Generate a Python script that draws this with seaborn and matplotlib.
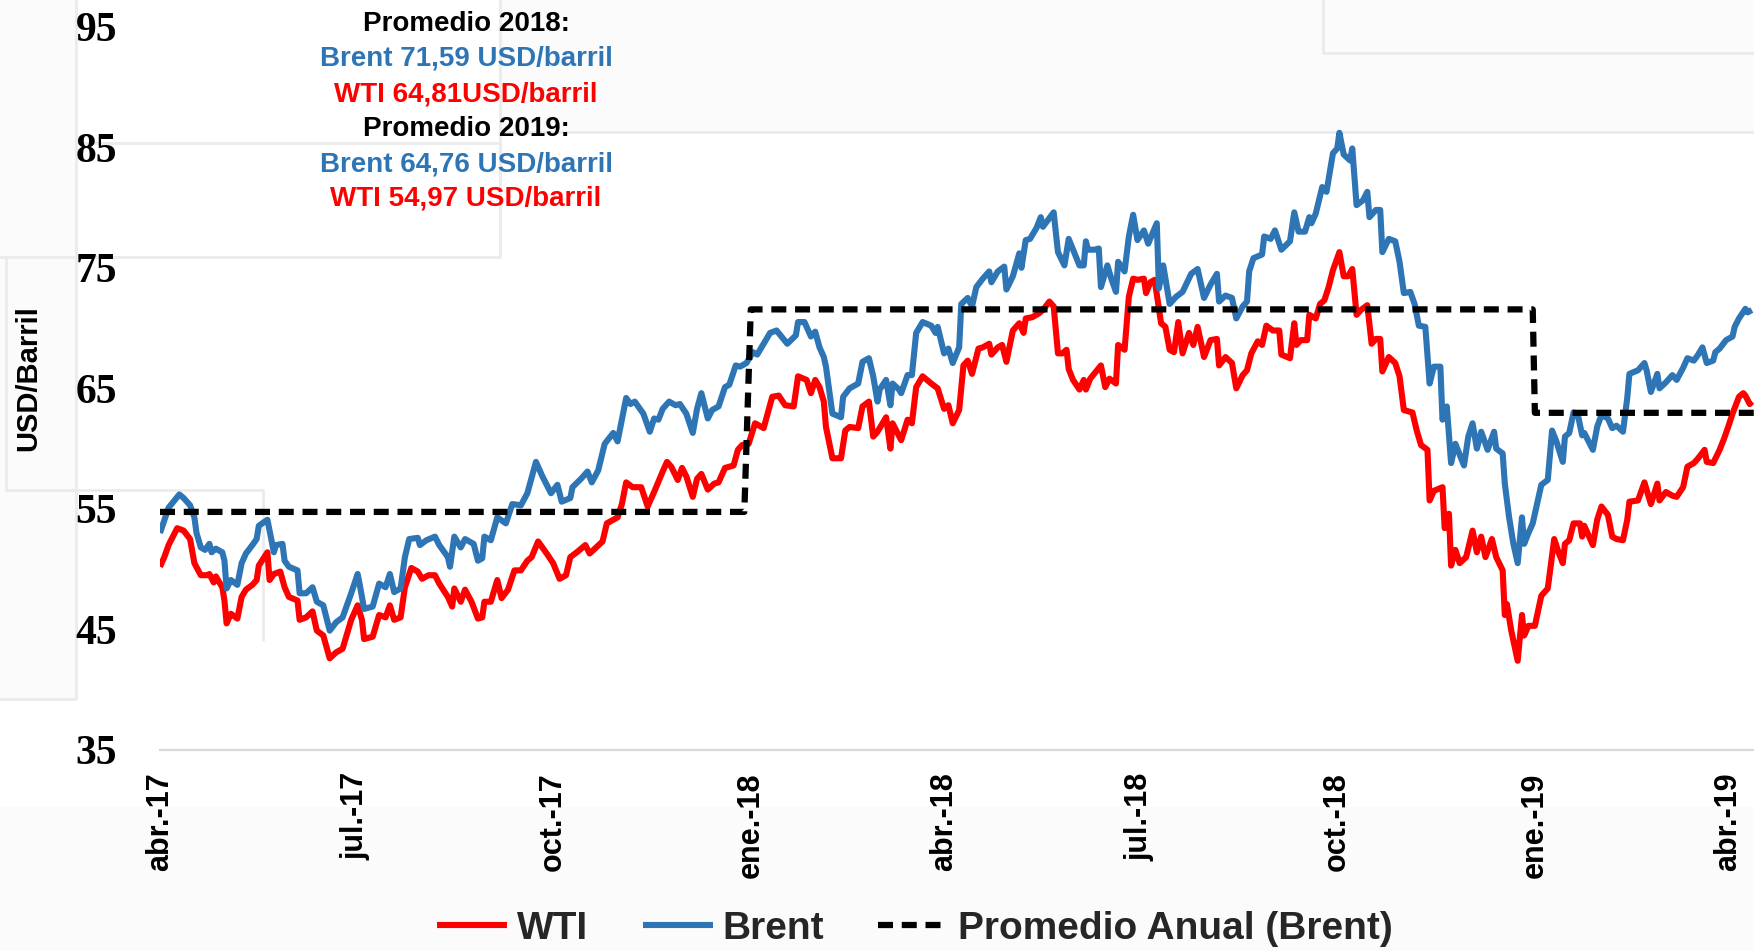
import matplotlib
matplotlib.use("Agg")
import matplotlib.pyplot as plt
from matplotlib.lines import Line2D
from matplotlib.patches import Rectangle
import pandas as pd
import seaborn as sns

# ── datos (USD/barril) ────────────────────────────────────────────────────────
wti_fechas = [
    "2017-04-01", "2017-04-03", "2017-04-05", "2017-04-09", "2017-04-12", "2017-04-15", "2017-04-17", "2017-04-20", "2017-04-23", "2017-04-24", "2017-04-26", "2017-04-27", "2017-04-30",
    "2017-05-01", "2017-05-02", "2017-05-04", "2017-05-07", "2017-05-09", "2017-05-11", "2017-05-14", "2017-05-16", "2017-05-17", "2017-05-21", "2017-05-22", "2017-05-24", "2017-05-27", "2017-05-29", "2017-05-31",
    "2017-06-04", "2017-06-05", "2017-06-08", "2017-06-11", "2017-06-13", "2017-06-16", "2017-06-19", "2017-06-22", "2017-06-25", "2017-06-29",
    "2017-07-02", "2017-07-04", "2017-07-05", "2017-07-09", "2017-07-12", "2017-07-15", "2017-07-17", "2017-07-19", "2017-07-22", "2017-07-24", "2017-07-27", "2017-07-30",
    "2017-08-01", "2017-08-04", "2017-08-07", "2017-08-09", "2017-08-13", "2017-08-15", "2017-08-16", "2017-08-19", "2017-08-21", "2017-08-24", "2017-08-27", "2017-08-29", "2017-08-30",
    "2017-09-02", "2017-09-05", "2017-09-07", "2017-09-10", "2017-09-13", "2017-09-16", "2017-09-19", "2017-09-21", "2017-09-24", "2017-09-28",
    "2017-10-01", "2017-10-04", "2017-10-07", "2017-10-09", "2017-10-12", "2017-10-16", "2017-10-18", "2017-10-21", "2017-10-24", "2017-10-26", "2017-10-31",
    "2017-11-02", "2017-11-04", "2017-11-07", "2017-11-11", "2017-11-14", "2017-11-17", "2017-11-21", "2017-11-23", "2017-11-25", "2017-11-28", "2017-11-30",
    "2017-12-02", "2017-12-05", "2017-12-07", "2017-12-09", "2017-12-12", "2017-12-15", "2017-12-17", "2017-12-20", "2017-12-24", "2017-12-26", "2017-12-28", "2017-12-31",
    "2018-01-03", "2018-01-07", "2018-01-11", "2018-01-14", "2018-01-17", "2018-01-21", "2018-01-23", "2018-01-27", "2018-01-29", "2018-01-31",
    "2018-02-02", "2018-02-04", "2018-02-05", "2018-02-08", "2018-02-12", "2018-02-14", "2018-02-16", "2018-02-20", "2018-02-22", "2018-02-25", "2018-02-27",
    "2018-03-01", "2018-03-05", "2018-03-07", "2018-03-08", "2018-03-12", "2018-03-15", "2018-03-17", "2018-03-19", "2018-03-22", "2018-03-26", "2018-03-29",
    "2018-04-01", "2018-04-03", "2018-04-05", "2018-04-08", "2018-04-10", "2018-04-12", "2018-04-14", "2018-04-17", "2018-04-19", "2018-04-22", "2018-04-23", "2018-04-26", "2018-04-28", "2018-04-30",
    "2018-05-03", "2018-05-06", "2018-05-08", "2018-05-09", "2018-05-12", "2018-05-15", "2018-05-17", "2018-05-20", "2018-05-22", "2018-05-24", "2018-05-26", "2018-05-28", "2018-05-29", "2018-05-31",
    "2018-06-03", "2018-06-05", "2018-06-06", "2018-06-08", "2018-06-13", "2018-06-15", "2018-06-17", "2018-06-20", "2018-06-21", "2018-06-24", "2018-06-26", "2018-06-28", "2018-06-30",
    "2018-07-03", "2018-07-04", "2018-07-06", "2018-07-08", "2018-07-11", "2018-07-13", "2018-07-15", "2018-07-17", "2018-07-19", "2018-07-21", "2018-07-24", "2018-07-26", "2018-07-28", "2018-07-31",
    "2018-08-03", "2018-08-06", "2018-08-07", "2018-08-10", "2018-08-13", "2018-08-15", "2018-08-18", "2018-08-20", "2018-08-22", "2018-08-25", "2018-08-27", "2018-08-29",
    "2018-09-01", "2018-09-04", "2018-09-05", "2018-09-09", "2018-09-11", "2018-09-12", "2018-09-14", "2018-09-17", "2018-09-18", "2018-09-21", "2018-09-23", "2018-09-25", "2018-09-27", "2018-09-29",
    "2018-10-02", "2018-10-04", "2018-10-06", "2018-10-08", "2018-10-10", "2018-10-12", "2018-10-15", "2018-10-17", "2018-10-19", "2018-10-21", "2018-10-22", "2018-10-25", "2018-10-28", "2018-10-30",
    "2018-11-01", "2018-11-05", "2018-11-07", "2018-11-09", "2018-11-12", "2018-11-13", "2018-11-15", "2018-11-19", "2018-11-20", "2018-11-22", "2018-11-23", "2018-11-25", "2018-11-27", "2018-11-30",
    "2018-12-03", "2018-12-05", "2018-12-07", "2018-12-09", "2018-12-12", "2018-12-14", "2018-12-17", "2018-12-18", "2018-12-19", "2018-12-21", "2018-12-24", "2018-12-26", "2018-12-27", "2018-12-29",
    "2019-01-01", "2019-01-04", "2019-01-07", "2019-01-10", "2019-01-12", "2019-01-14", "2019-01-15", "2019-01-17", "2019-01-19", "2019-01-22", "2019-01-23", "2019-01-24", "2019-01-28", "2019-01-30",
    "2019-02-01", "2019-02-04", "2019-02-06", "2019-02-08", "2019-02-11", "2019-02-13", "2019-02-14", "2019-02-18", "2019-02-21", "2019-02-24", "2019-02-27", "2019-02-28",
    "2019-03-03", "2019-03-06", "2019-03-08", "2019-03-11", "2019-03-13", "2019-03-16", "2019-03-18", "2019-03-21", "2019-03-22", "2019-03-25", "2019-03-28", "2019-03-30",
    "2019-04-01", "2019-04-03", "2019-04-06", "2019-04-08", "2019-04-09", "2019-04-11", "2019-04-12",
]
wti_usd = [
    50.2, 51.0, 52.0, 53.4, 53.2, 52.5, 50.5, 49.5, 49.5, 49.6, 48.9, 49.4, 48.5,
    47.4, 45.5, 46.3, 45.9, 47.7, 48.3, 48.7, 49.1, 50.3, 51.4, 49.1, 49.6, 49.8, 48.5, 47.7,
    47.4, 45.8, 46.0, 46.5, 44.9, 44.5, 42.6, 43.1, 43.4, 45.8,
    47.0, 45.8, 44.2, 44.4, 46.2, 46.0, 47.0, 45.8, 46.0, 48.5, 50.1, 49.8,
    49.2, 49.5, 49.5, 48.8, 47.7, 46.9, 48.4, 47.3, 48.3, 47.3, 45.9, 46.0, 47.3,
    47.3, 49.1, 47.6, 48.3, 49.9, 49.9, 50.7, 51.0, 52.3, 51.3,
    50.5, 49.2, 49.5, 51.0, 51.4, 52.0, 51.3, 51.8, 52.3, 53.8, 54.3,
    55.4, 57.2, 56.8, 56.8, 55.2, 56.4, 58.1, 58.9, 58.5, 57.4, 58.4,
    57.7, 56.0, 57.5, 57.9, 56.6, 57.1, 57.2, 58.4, 58.6, 59.9, 60.3, 60.4,
    62.1, 61.7, 64.3, 64.4, 63.6, 63.5, 66.0, 65.7, 64.6, 65.7,
    65.1, 63.9, 61.8, 59.2, 59.2, 61.5, 61.8, 61.7, 63.5, 63.9, 61.0,
    61.4, 62.6, 60.0, 62.1, 60.7, 62.4, 62.1, 65.1, 66.0, 65.4, 65.0,
    63.3, 63.6, 62.1, 63.2, 66.9, 67.3, 66.2, 68.3, 68.4, 68.7, 67.8, 68.4, 68.6, 67.2,
    69.8, 70.4, 69.6, 70.8, 70.9, 71.2, 71.5, 72.2, 71.8, 67.9, 67.9, 68.2, 66.6, 65.7,
    64.9, 65.7, 64.9, 65.8, 66.9, 65.1, 65.8, 65.4, 68.6, 68.2, 72.6, 74.1, 74.0,
    74.1, 72.9, 73.8, 74.0, 70.4, 70.1, 68.2, 68.0, 70.5, 67.9, 69.6, 68.6, 70.1, 67.6,
    69.0, 69.1, 66.9, 67.6, 67.1, 65.0, 66.1, 66.5, 67.9, 68.9, 68.6, 70.2,
    69.8, 69.8, 67.8, 67.5, 70.4, 68.6, 69.0, 69.0, 71.1, 70.8, 72.0, 72.3, 73.4, 74.8,
    76.3, 74.3, 74.3, 74.9, 71.1, 71.5, 71.9, 68.7, 69.1, 69.1, 66.4, 67.6, 67.1, 66.0,
    63.2, 63.0, 61.5, 60.3, 59.9, 55.7, 56.5, 56.8, 53.4, 54.6, 50.3, 51.6, 50.5, 51.0,
    53.2, 51.4, 52.7, 51.0, 52.5, 51.0, 49.9, 46.2, 47.1, 44.9, 42.4, 46.2, 44.5, 45.3,
    45.3, 47.8, 48.4, 52.5, 51.4, 50.5, 52.1, 52.4, 53.8, 53.8, 52.7, 53.6, 52.0, 54.1,
    55.2, 54.5, 52.7, 52.5, 52.4, 54.1, 55.6, 55.7, 57.2, 55.4, 57.1, 55.7,
    56.4, 56.1, 56.0, 56.8, 58.5, 58.8, 59.2, 59.9, 58.9, 58.8, 59.9, 60.8,
    61.8, 62.9, 64.3, 64.6, 64.4, 63.7, 63.9,
]

brent_fechas = [
    "2017-04-01", "2017-04-05", "2017-04-10", "2017-04-12", "2017-04-15", "2017-04-17", "2017-04-18", "2017-04-20", "2017-04-22", "2017-04-24", "2017-04-25", "2017-04-27", "2017-04-30",
    "2017-05-01", "2017-05-02", "2017-05-04", "2017-05-07", "2017-05-09", "2017-05-11", "2017-05-14", "2017-05-16", "2017-05-17", "2017-05-21", "2017-05-22", "2017-05-24", "2017-05-25", "2017-05-28", "2017-05-29", "2017-05-31",
    "2017-06-04", "2017-06-05", "2017-06-08", "2017-06-11", "2017-06-13", "2017-06-16", "2017-06-19", "2017-06-22", "2017-06-25", "2017-06-29",
    "2017-07-02", "2017-07-03", "2017-07-05", "2017-07-09", "2017-07-12", "2017-07-15", "2017-07-17", "2017-07-19", "2017-07-22", "2017-07-24", "2017-07-26", "2017-07-30", "2017-07-31",
    "2017-08-03", "2017-08-07", "2017-08-09", "2017-08-13", "2017-08-14", "2017-08-16", "2017-08-19", "2017-08-21", "2017-08-25", "2017-08-27", "2017-08-29", "2017-08-30",
    "2017-09-02", "2017-09-05", "2017-09-09", "2017-09-12", "2017-09-16", "2017-09-19", "2017-09-23", "2017-09-26", "2017-09-30",
    "2017-10-03", "2017-10-05", "2017-10-09", "2017-10-10", "2017-10-14", "2017-10-17", "2017-10-19", "2017-10-22", "2017-10-25", "2017-10-29", "2017-10-31",
    "2017-11-04", "2017-11-06", "2017-11-08", "2017-11-12", "2017-11-15", "2017-11-17", "2017-11-19", "2017-11-21", "2017-11-24", "2017-11-27", "2017-11-29",
    "2017-12-02", "2017-12-05", "2017-12-07", "2017-12-09", "2017-12-12", "2017-12-14", "2017-12-17", "2017-12-20", "2017-12-22", "2017-12-25", "2017-12-27", "2017-12-30",
    "2018-01-02", "2018-01-04", "2018-01-07", "2018-01-10", "2018-01-13", "2018-01-18", "2018-01-22", "2018-01-23", "2018-01-26", "2018-01-29", "2018-01-31",
    "2018-02-02", "2018-02-04", "2018-02-05", "2018-02-08", "2018-02-12", "2018-02-13", "2018-02-16", "2018-02-20", "2018-02-22", "2018-02-25", "2018-02-27",
    "2018-03-01", "2018-03-02", "2018-03-05", "2018-03-07", "2018-03-08", "2018-03-11", "2018-03-12", "2018-03-15", "2018-03-17", "2018-03-19", "2018-03-22", "2018-03-26", "2018-03-28", "2018-03-29",
    "2018-04-01", "2018-04-03", "2018-04-05", "2018-04-08", "2018-04-09", "2018-04-12", "2018-04-14", "2018-04-16", "2018-04-19", "2018-04-22", "2018-04-23", "2018-04-26", "2018-04-29", "2018-04-30",
    "2018-05-03", "2018-05-06", "2018-05-07", "2018-05-09", "2018-05-11", "2018-05-14", "2018-05-16", "2018-05-17", "2018-05-22", "2018-05-24", "2018-05-27", "2018-05-29",
    "2018-06-03", "2018-06-05", "2018-06-06", "2018-06-07", "2018-06-10", "2018-06-12", "2018-06-13", "2018-06-16", "2018-06-18", "2018-06-20", "2018-06-21", "2018-06-24", "2018-06-26", "2018-06-28", "2018-06-30",
    "2018-07-03", "2018-07-05", "2018-07-09", "2018-07-10", "2018-07-12", "2018-07-15", "2018-07-18", "2018-07-21", "2018-07-25", "2018-07-28", "2018-07-31",
    "2018-08-03", "2018-08-06", "2018-08-07", "2018-08-10", "2018-08-13", "2018-08-15", "2018-08-18", "2018-08-20", "2018-08-21", "2018-08-23", "2018-08-27", "2018-08-28", "2018-08-31",
    "2018-09-02", "2018-09-05", "2018-09-09", "2018-09-11", "2018-09-13", "2018-09-16", "2018-09-18", "2018-09-19", "2018-09-21", "2018-09-24", "2018-09-26", "2018-09-29",
    "2018-10-01", "2018-10-02", "2018-10-04", "2018-10-07", "2018-10-08", "2018-10-10", "2018-10-13", "2018-10-15", "2018-10-16", "2018-10-19", "2018-10-21", "2018-10-22", "2018-10-25", "2018-10-28", "2018-10-30",
    "2018-11-01", "2018-11-04", "2018-11-06", "2018-11-08", "2018-11-11", "2018-11-13", "2018-11-15", "2018-11-18", "2018-11-19", "2018-11-21", "2018-11-23", "2018-11-25", "2018-11-27", "2018-11-29",
    "2018-12-01", "2018-12-03", "2018-12-05", "2018-12-07", "2018-12-10", "2018-12-13", "2018-12-14", "2018-12-17", "2018-12-18", "2018-12-20", "2018-12-22", "2018-12-24", "2018-12-26", "2018-12-27", "2018-12-29", "2018-12-31",
    "2019-01-04", "2019-01-07", "2019-01-09", "2019-01-11", "2019-01-14", "2019-01-15", "2019-01-17", "2019-01-19", "2019-01-21", "2019-01-23", "2019-01-24", "2019-01-28", "2019-01-30",
    "2019-02-01", "2019-02-04", "2019-02-06", "2019-02-08", "2019-02-11", "2019-02-13", "2019-02-14", "2019-02-18", "2019-02-21", "2019-02-22", "2019-02-24", "2019-02-27", "2019-02-28",
    "2019-03-03", "2019-03-06", "2019-03-08", "2019-03-11", "2019-03-13", "2019-03-16", "2019-03-18", "2019-03-20", "2019-03-22", "2019-03-25", "2019-03-26", "2019-03-28", "2019-03-31",
    "2019-04-03", "2019-04-04", "2019-04-06", "2019-04-09", "2019-04-10", "2019-04-12",
]
brent_usd = [
    53.0, 55.1, 56.2, 55.9, 55.3, 54.3, 53.0, 51.8, 51.6, 52.1, 51.4, 51.7, 51.4,
    50.7, 48.4, 49.1, 48.7, 50.5, 51.3, 52.0, 52.5, 53.6, 54.1, 53.2, 51.4, 52.0, 52.1, 50.7, 50.2,
    49.9, 48.0, 48.0, 48.5, 47.3, 47.0, 44.9, 45.6, 46.0, 48.0,
    49.6, 48.7, 46.7, 46.9, 48.8, 48.5, 49.6, 48.1, 48.4, 51.0, 52.5, 52.6, 52.0,
    52.4, 52.7, 52.0, 51.0, 50.2, 52.7, 51.8, 52.5, 52.1, 50.7, 50.9, 52.7,
    52.4, 54.3, 53.8, 55.4, 55.3, 56.3, 58.9, 57.7, 56.3,
    57.0, 55.6, 55.9, 56.8, 57.5, 58.1, 57.2, 58.2, 60.4, 61.3, 60.6,
    64.2, 63.7, 63.9, 62.9, 61.4, 62.5, 62.4, 63.3, 63.9, 63.6, 63.7,
    62.9, 61.3, 63.3, 64.6, 62.5, 63.2, 63.5, 65.1, 65.3, 66.9, 66.8, 67.1,
    68.0, 67.8, 68.7, 69.6, 69.8, 68.7, 69.4, 70.5, 70.5, 69.3, 69.7,
    68.4, 67.6, 66.8, 62.9, 62.6, 64.3, 65.0, 65.4, 67.2, 67.5, 66.0,
    63.9, 64.9, 65.7, 63.6, 65.4, 64.9, 64.6, 66.1, 66.1, 69.6, 70.5, 70.2, 69.6, 70.1,
    67.9, 68.3, 67.1, 68.4, 72.0, 72.5, 71.8, 73.4, 74.1, 74.7, 73.8, 74.7, 75.1, 73.2,
    74.3, 76.2, 75.0, 77.3, 77.4, 78.3, 79.2, 78.4, 79.6, 76.3, 75.2, 77.4,
    75.2, 75.2, 77.2, 76.5, 76.5, 76.6, 73.4, 75.2, 74.0, 73.0, 75.5, 74.7, 77.6, 79.4, 77.3,
    78.1, 77.0, 78.7, 73.3, 75.2, 72.0, 72.6, 73.0, 74.5, 74.9, 72.5,
    73.6, 74.5, 72.2, 72.7, 72.5, 70.8, 71.8, 72.2, 74.7, 75.8, 76.1, 77.6, 77.4,
    78.1, 76.5, 77.2, 79.6, 78.0, 78.0, 79.2, 78.7, 79.5, 81.7, 81.3, 84.5,
    84.9, 86.2, 84.4, 83.9, 84.9, 80.2, 80.6, 81.3, 79.2, 79.8, 79.8, 76.3, 77.4, 77.2, 75.5,
    72.9, 73.0, 72.0, 70.2, 70.1, 65.4, 66.8, 66.8, 62.4, 63.5, 58.8, 60.4, 59.5, 58.6,
    61.0, 62.1, 60.0, 61.4, 59.9, 61.4, 60.0, 59.6, 57.1, 54.3, 52.1, 50.5, 54.3, 52.1, 53.0, 53.8,
    57.0, 57.4, 61.5, 60.6, 58.9, 61.0, 61.3, 63.0, 62.8, 61.1, 61.3, 59.9, 61.8,
    62.8, 62.5, 61.7, 61.9, 61.4, 64.2, 66.2, 66.5, 67.1, 66.5, 64.7, 66.2, 65.0,
    65.5, 66.1, 65.7, 66.7, 67.5, 67.3, 67.8, 68.4, 67.1, 67.3, 68.0, 68.3, 69.0,
    69.3, 70.1, 70.8, 71.6, 71.3, 71.5,
]

# promedio anual del Brent, un tramo por año
prom_fechas = ["2017-04-01", "2017-12-29", "2018-01-01", "2018-12-31", "2019-01-01", "2019-04-13"]
prom_usd = [54.75, 54.75, 71.55, 71.55, 62.97, 62.97]

tick_fechas = ["2017-04-01", "2017-07-01", "2017-10-01", "2018-01-01", "2018-04-01",
               "2018-07-01", "2018-10-01", "2019-01-01", "2019-04-01"]
tick_etiquetas = ["abr.-17", "jul.-17", "oct.-17", "ene.-18", "abr.-18",
                  "jul.-18", "oct.-18", "ene.-19", "abr.-19"]
y_ticks = [35, 45, 55, 65, 75, 85, 95]

notas = [
    ("Promedio 2018:", "black"),
    ("Brent 71,59 USD/barril", "#2E75B6"),
    ("WTI 64,81USD/barril", "#FF0000"),
    ("Promedio 2019:", "black"),
    ("Brent 64,76 USD/barril", "#2E75B6"),
    ("WTI 54,97 USD/barril", "#FF0000"),
]

# ── estilo ────────────────────────────────────────────────────────────────────
WTI_COLOR = "#FF0000"
BRENT_COLOR = "#2E75B6"
SANS = "Liberation Sans"
SERIF = "Liberation Serif"
W, H = 1754, 951

sns.set_theme(style="white")
plt.rcParams["font.family"] = ["Liberation Sans", "DejaVu Sans"]

wti = pd.DataFrame({"fecha": pd.to_datetime(wti_fechas), "usd": wti_usd})
brent = pd.DataFrame({"fecha": pd.to_datetime(brent_fechas), "usd": brent_usd})
prom = pd.DataFrame({"fecha": pd.to_datetime(prom_fechas), "usd": prom_usd})

fig = plt.figure(figsize=(W / 100, H / 100), dpi=100)
fig.patch.set_facecolor("white")


def px(x, y):
    return x / W, 1 - y / H


# faint background boxes that sit behind the original chart
bg = "#FBFBFB"
edge = "#EBEBEB"
for (x0, y0, x1, y1) in [(0, 807, W, H), (500, 0, W, 132), (0, 0, 76, 699)]:
    a, b = px(x0, y1)
    fig.add_artist(Rectangle((a, b), (x1 - x0) / W, (y1 - y0) / H,
                             transform=fig.transFigure, color=bg, zorder=-2, lw=0))
for xs, ys in [([76, 76, 0], [0, 699, 699]), ([0, 500, 500], [257, 257, 0]),
               ([6, 6, 263, 263], [257, 490, 490, 640]), ([1323, 1323, W], [0, 53, 53]),
               ([500, W], [132, 132]), ([76, 500], [143, 143])]:
    fig.add_artist(Line2D([x / W for x in xs], [1 - y / H for y in ys],
                          transform=fig.transFigure, color=edge, lw=2, zorder=-1))

ax = fig.add_axes([160 / W, (H - 750) / H, (W - 160) / W, (750 - 26.7) / H])
ax.set_facecolor("none")

sns.lineplot(data=wti, x="fecha", y="usd", ax=ax, color=WTI_COLOR, lw=4.4,
             estimator=None, label="WTI")
sns.lineplot(data=brent, x="fecha", y="usd", ax=ax, color=BRENT_COLOR, lw=4.4,
             estimator=None, label="Brent")
sns.lineplot(data=prom, x="fecha", y="usd", ax=ax, color="black", lw=4.5,
             estimator=None, label="Promedio Anual (Brent)")
ax.lines[-1].set_dashes([2.4, 1.4])
for ln in ax.lines:
    ln.set_solid_capstyle("butt")
    ln.set_solid_joinstyle("round")

ax.set_xlim(pd.Timestamp("2017-04-01"), pd.Timestamp("2019-04-13"))
ax.set_ylim(35, 95)
ax.set_yticks(y_ticks)
ax.set_yticklabels([str(v) for v in y_ticks], fontsize=30, fontweight="bold",
                   family=SERIF, color="black")
ax.set_xticks(pd.to_datetime(tick_fechas))
ax.set_xticklabels(tick_etiquetas, rotation=90, fontsize=22, fontweight="bold",
                   family=SANS, color="black")
ax.tick_params(axis="y", length=0, pad=31)
ax.tick_params(axis="x", length=0, pad=16)
ax.set_xlabel("")
ax.set_ylabel("USD/Barril", fontsize=21, fontweight="bold", family=SANS, color="black")
ax.yaxis.set_label_coords(-0.074, 0.514)

for side in ["top", "right", "left"]:
    ax.spines[side].set_visible(False)
ax.spines["bottom"].set_color("#D9D9D9")
ax.spines["bottom"].set_linewidth(1.6)
ax.grid(False)

# annotation block, one coloured line each
for i, (txt, col) in enumerate(notas):
    fx, fy = px(466, 31 + 35 * i)
    fig.text(fx, fy, txt, ha="center", va="baseline", fontsize=20,
             fontweight="bold", family=SANS, color=col)

handles, labels = ax.get_legend_handles_labels()
ax.get_legend().remove()
fig.legend(handles, labels, loc="center", bbox_to_anchor=(0.5217, 0.0231), ncol=3,
           frameon=False, handlelength=1.8, handletextpad=0.25, columnspacing=1.4,
           borderpad=0, borderaxespad=0,
           prop={"family": SANS, "weight": "bold", "size": 28})

fig.savefig("out.png", dpi=100, facecolor="white")
